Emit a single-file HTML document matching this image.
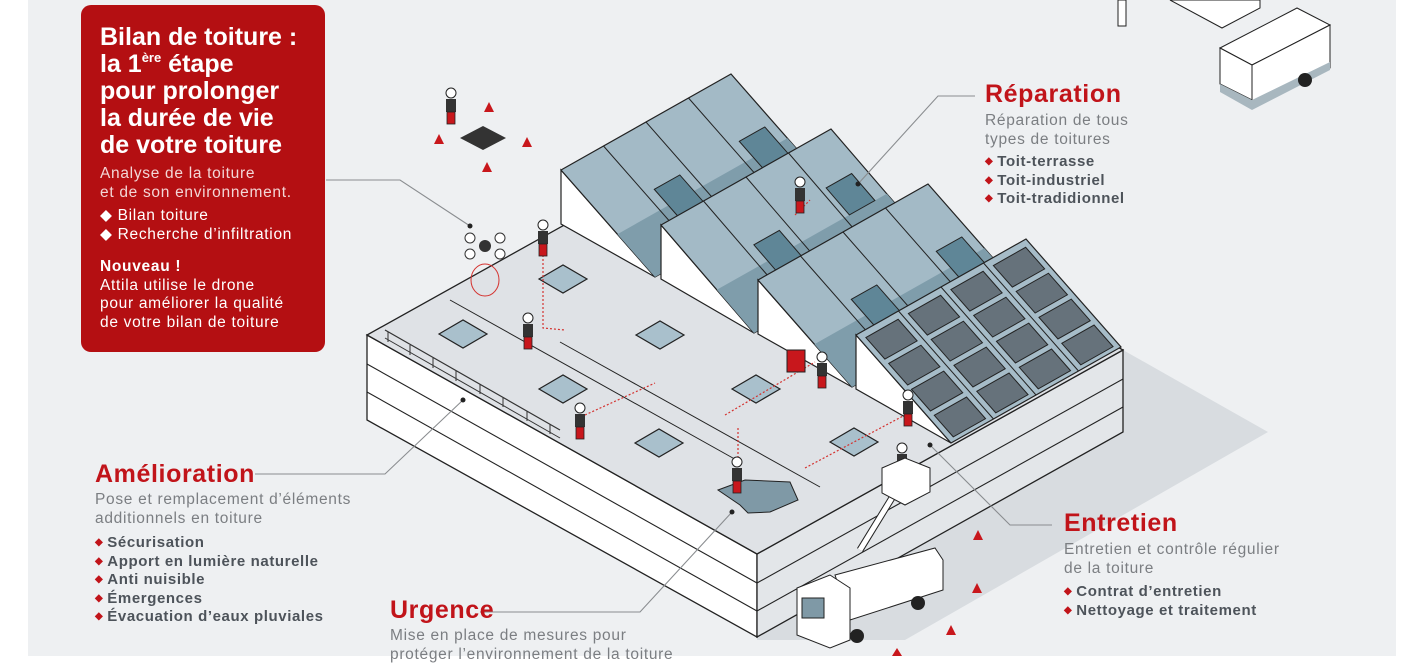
<!DOCTYPE html>
<html><head><meta charset="utf-8"><style>
html,body{margin:0;padding:0;width:1404px;height:656px;overflow:hidden;background:#fff;font-family:"Liberation Sans",sans-serif}
svg{position:absolute;left:0;top:0}
.t{position:absolute;white-space:nowrap}
.h{color:#c1141a;font-weight:bold;font-size:25px;letter-spacing:0.6px}
.d{color:#7b7e82;font-size:15.5px;line-height:18.5px;letter-spacing:0.7px}
.b{color:#4d535a;font-weight:bold;font-size:15px;line-height:18.5px;letter-spacing:0.6px}
.b span{color:#c1141a;font-size:10px;margin-right:4px;vertical-align:2px}
</style></head><body>
<svg width="1404" height="656" viewBox="0 0 1404 656">
<defs>
<g id="p">
<circle cx="0" cy="-30" r="5" fill="#fff" stroke="#222"/>
<rect x="-5" y="-24" width="10" height="13" fill="#333"/>
<rect x="-4" y="-11" width="8" height="12" fill="#c8171c" stroke="#222" stroke-width=".8"/>
</g>
</defs>
<rect x="28" y="0" width="1368" height="656" fill="#eef0f2"/>
<polygon points="1123,350 1268,432 905,640 757,640 757,554" fill="#d8dce0"/>
<polygon points="367,335 757,554 757,637 367,420" fill="#fff" stroke="#222" stroke-width="1.3"/>
<line x1="367" y1="364" x2="757" y2="583" stroke="#222" stroke-width="1.1"/>
<line x1="367" y1="392" x2="757" y2="611" stroke="#222" stroke-width="1.1"/>
<polygon points="757,554 1123,350 1123,432 757,637" fill="#e3e6e9" stroke="#222" stroke-width="1.3"/>
<line x1="757" y1="583" x2="1123" y2="379" stroke="#222" stroke-width="1.1"/>
<line x1="757" y1="611" x2="1123" y2="407" stroke="#222" stroke-width="1.1"/>
<polygon points="367,335 757,554 1123,350 733,131" fill="#dfe2e6" stroke="#222" stroke-width="1.3"/>
<line x1="450" y1="300" x2="740" y2="462" stroke="#222" stroke-width="1"/>
<line x1="560" y1="342" x2="820" y2="487" stroke="#222" stroke-width="1"/>
<line x1="385" y1="330" x2="560" y2="430" stroke="#333" stroke-width="1.2"/>
<line x1="385" y1="338" x2="560" y2="438" stroke="#333" stroke-width="1"/>
<g stroke="#333" stroke-width="1">
<line x1="388" y1="332" x2="388" y2="342"/><line x1="410" y1="345" x2="410" y2="355"/><line x1="433" y1="358" x2="433" y2="368"/><line x1="456" y1="371" x2="456" y2="381"/><line x1="480" y1="384" x2="480" y2="394"/><line x1="503" y1="397" x2="503" y2="407"/><line x1="527" y1="411" x2="527" y2="421"/><line x1="550" y1="424" x2="550" y2="434"/>
</g>
<g>
<polygon points="561,170 561,224 655,277" fill="#fff" stroke="#222" stroke-width="1.2"/>
<g transform="matrix(170,-96,94,107,561,170)">
<rect x="0" y="0" width="1" height="1" fill="#a3bac6" stroke="#222" stroke-width="1.2" vector-effect="non-scaling-stroke"/>
<rect x="0" y="0.6" width="1" height="0.4" fill="#7f9dab"/>
<line x1=".25" y1="0" x2=".25" y2="1" stroke="#222" vector-effect="non-scaling-stroke"/><line x1=".5" y1="0" x2=".5" y2="1" stroke="#222" vector-effect="non-scaling-stroke"/><line x1=".75" y1="0" x2=".75" y2="1" stroke="#222" vector-effect="non-scaling-stroke"/>
<rect x=".3" y=".45" width=".15" height=".25" fill="#5f8697" stroke="#222" vector-effect="non-scaling-stroke"/>
<rect x=".8" y=".45" width=".15" height=".25" fill="#5f8697" stroke="#222" vector-effect="non-scaling-stroke"/>
</g>
</g>
<g>
<polygon points="661,225 661,279 754,333" fill="#fff" stroke="#222" stroke-width="1.2"/>
<g transform="matrix(170,-96,93,108,661,225)">
<rect x="0" y="0" width="1" height="1" fill="#a3bac6" stroke="#222" stroke-width="1.2" vector-effect="non-scaling-stroke"/>
<rect x="0" y="0.6" width="1" height="0.4" fill="#7f9dab"/>
<line x1=".25" y1="0" x2=".25" y2="1" stroke="#222" vector-effect="non-scaling-stroke"/><line x1=".5" y1="0" x2=".5" y2="1" stroke="#222" vector-effect="non-scaling-stroke"/><line x1=".75" y1="0" x2=".75" y2="1" stroke="#222" vector-effect="non-scaling-stroke"/>
<rect x=".3" y=".45" width=".15" height=".25" fill="#5f8697" stroke="#222" vector-effect="non-scaling-stroke"/>
<rect x=".78" y=".35" width=".15" height=".25" fill="#5f8697" stroke="#222" vector-effect="non-scaling-stroke"/>
</g>
</g>
<g>
<polygon points="758,280 758,334 852,387" fill="#fff" stroke="#222" stroke-width="1.2"/>
<g transform="matrix(170,-96,94,107,758,280)">
<rect x="0" y="0" width="1" height="1" fill="#a3bac6" stroke="#222" stroke-width="1.2" vector-effect="non-scaling-stroke"/>
<rect x="0" y="0.6" width="1" height="0.4" fill="#7f9dab"/>
<line x1=".25" y1="0" x2=".25" y2="1" stroke="#222" vector-effect="non-scaling-stroke"/><line x1=".5" y1="0" x2=".5" y2="1" stroke="#222" vector-effect="non-scaling-stroke"/><line x1=".75" y1="0" x2=".75" y2="1" stroke="#222" vector-effect="non-scaling-stroke"/>
<rect x=".3" y=".45" width=".15" height=".25" fill="#5f8697" stroke="#222" vector-effect="non-scaling-stroke"/>
<rect x=".8" y=".45" width=".15" height=".25" fill="#5f8697" stroke="#222" vector-effect="non-scaling-stroke"/>
</g>
</g>
<g>
<polygon points="856,335 856,389 951,443" fill="#fff" stroke="#222" stroke-width="1.2"/>
<g transform="matrix(170,-96,95,108,856,335)">
<rect x="0" y="0" width="1" height="1" fill="#a6bcc8" stroke="#222" stroke-width="1.2" vector-effect="non-scaling-stroke"/>
<line x1=".25" y1="0" x2=".25" y2="1" stroke="#222" vector-effect="non-scaling-stroke"/><line x1=".5" y1="0" x2=".5" y2="1" stroke="#222" vector-effect="non-scaling-stroke"/><line x1=".75" y1="0" x2=".75" y2="1" stroke="#222" vector-effect="non-scaling-stroke"/>
<g fill="#66727b" stroke="#222" stroke-width="1">
<rect x=".03" y=".05" width=".19" height=".2" vector-effect="non-scaling-stroke"/><rect x=".03" y=".29" width=".19" height=".2" vector-effect="non-scaling-stroke"/><rect x=".03" y=".53" width=".19" height=".2" vector-effect="non-scaling-stroke"/><rect x=".03" y=".77" width=".19" height=".2" vector-effect="non-scaling-stroke"/>
<rect x=".28" y=".05" width=".19" height=".2" vector-effect="non-scaling-stroke"/><rect x=".28" y=".29" width=".19" height=".2" vector-effect="non-scaling-stroke"/><rect x=".28" y=".53" width=".19" height=".2" vector-effect="non-scaling-stroke"/><rect x=".28" y=".77" width=".19" height=".2" vector-effect="non-scaling-stroke"/>
<rect x=".53" y=".05" width=".19" height=".2" vector-effect="non-scaling-stroke"/><rect x=".53" y=".29" width=".19" height=".2" vector-effect="non-scaling-stroke"/><rect x=".53" y=".53" width=".19" height=".2" vector-effect="non-scaling-stroke"/><rect x=".53" y=".77" width=".19" height=".2" vector-effect="non-scaling-stroke"/>
<rect x=".78" y=".05" width=".19" height=".2" vector-effect="non-scaling-stroke"/><rect x=".78" y=".29" width=".19" height=".2" vector-effect="non-scaling-stroke"/><rect x=".78" y=".53" width=".19" height=".2" vector-effect="non-scaling-stroke"/><rect x=".78" y=".77" width=".19" height=".2" vector-effect="non-scaling-stroke"/>
</g>
</g>
</g>
<g fill="#a9c0cc" stroke="#222" stroke-width="1.2">
<polygon points="539,279 563,265 587,279 563,293"/>
<polygon points="439,334 463,320 487,334 463,348"/>
<polygon points="636,335 660,321 684,335 660,349"/>
<polygon points="539,389 563,375 587,389 563,403"/>
<polygon points="732,389 756,375 780,389 756,403"/>
<polygon points="635,443 659,429 683,443 659,457"/>
<polygon points="830,442 854,428 878,442 854,456"/>
</g>
<g stroke="#d4322f" stroke-width="1.2" stroke-dasharray="2,2" fill="none">
<polyline points="543,255 543,328 565,330"/>
<line x1="585" y1="415" x2="655" y2="383"/>
<line x1="725" y1="415" x2="815" y2="362"/>
<line x1="738" y1="428" x2="738" y2="460"/>
<line x1="805" y1="468" x2="905" y2="415"/>
<line x1="795" y1="215" x2="810" y2="200"/>
</g>
<polygon points="718,490 745,480 790,482 798,500 770,512 748,513 740,505" fill="#7f99a6" stroke="#222"/>
<rect x="787" y="350" width="18" height="22" fill="#c8171c" stroke="#222"/>
<use href="#p" x="543" y="255"/>
<use href="#p" x="528" y="348"/>
<use href="#p" x="580" y="438"/>
<use href="#p" x="822" y="387"/>
<use href="#p" x="908" y="425"/>
<use href="#p" x="737" y="492"/>
<use href="#p" x="800" y="212"/>
<use href="#p" x="451" y="123"/>
<use href="#p" x="902" y="478"/>
<polygon points="460,138 483,126 506,138 483,150" fill="#333"/>
<circle cx="485" cy="246" r="6" fill="#333"/>
<circle cx="470" cy="238" r="5" fill="#fff" stroke="#333"/><circle cx="500" cy="238" r="5" fill="#fff" stroke="#333"/>
<circle cx="470" cy="254" r="5" fill="#fff" stroke="#333"/><circle cx="500" cy="254" r="5" fill="#fff" stroke="#333"/>
<ellipse cx="485" cy="280" rx="14" ry="16" fill="none" stroke="#d4322f"/>
<g fill="#c8171c"><polygon points="434,144 439,134 444,144"/><polygon points="482,172 487,162 492,172"/><polygon points="522,147 527,137 532,147"/><polygon points="484,112 489,102 494,112"/><polygon points="973,540 978,530 983,540"/><polygon points="972,593 977,583 982,593"/><polygon points="946,635 951,625 956,635"/><polygon points="892,656 897,648 902,656"/></g>
<polygon points="835,575 935,548 943,560 943,590 850,620" fill="#fff" stroke="#222"/>
<polygon points="797,588 830,575 850,588 850,640 830,648 797,635" fill="#fff" stroke="#222"/>
<rect x="802" y="598" width="22" height="20" fill="#7f99a6" stroke="#222"/>
<circle cx="857" cy="636" r="7" fill="#222"/><circle cx="918" cy="603" r="7" fill="#222"/>
<line x1="860" y1="550" x2="898" y2="488" stroke="#222" stroke-width="7"/>
<line x1="860" y1="550" x2="898" y2="488" stroke="#fff" stroke-width="5"/>
<polygon points="882,468 905,458 930,468 930,492 905,505 882,493" fill="#fff" stroke="#222"/>
<polygon points="1170,0 1260,0 1260,8 1222,28 1170,0" fill="#fff" stroke="#222"/>
<polygon points="1220,48 1297,8 1330,25 1252,65" fill="#fff" stroke="#222"/>
<polygon points="1220,48 1252,65 1252,100 1220,84" fill="#fff" stroke="#222"/>
<polygon points="1252,65 1330,25 1330,68 1252,108" fill="#fff" stroke="#222"/>
<polygon points="1252,100 1330,62 1330,70 1252,110 1220,92 1220,84" fill="#a8b7bf"/>
<circle cx="1305" cy="80" r="7" fill="#222"/>
<rect x="1118" y="0" width="8" height="26" fill="#fff" stroke="#222"/>
<g stroke="#8a8d90" stroke-width="1.1" fill="none">
<polyline points="326,180 400,180 470,226"/>
<polyline points="975,96 938,96 858,184"/>
<polyline points="255,474 385,474 463,400"/>
<polyline points="480,612 640,612 732,512"/>
<polyline points="1052,525 1010,525 930,445"/>
</g>
<g fill="#222"><circle cx="470" cy="226" r="2.5"/><circle cx="858" cy="184" r="2.5"/><circle cx="463" cy="400" r="2.5"/><circle cx="732" cy="512" r="2.5"/><circle cx="930" cy="445" r="2.5"/></g>
<rect x="81" y="5" width="244" height="347" rx="10" fill="#b40f12"/>
</svg>

<div class="t" style="left:100px;top:24px;color:#fff;font-weight:bold;font-size:25px;line-height:27px;letter-spacing:0px">Bilan de toiture :<br>la 1<sup style="font-size:13px;vertical-align:10px;line-height:0">ère</sup> étape<br>pour prolonger<br>la durée de vie<br>de votre toiture</div>
<div class="t d" style="left:100px;top:165px;color:#f3d6d6">Analyse de la toiture<br>et de son environnement.</div>
<div class="t d" style="left:100px;top:207px;color:#fff">◆ Bilan toiture<br>◆ Recherche d’infiltration</div>
<div class="t d" style="left:100px;top:258px;color:#fff"><b>Nouveau !</b><br>Attila utilise le drone<br>pour améliorer la qualité<br>de votre bilan de toiture</div>

<div class="t h" style="left:985px;top:80px">Réparation</div>
<div class="t d" style="left:985px;top:112px">Réparation de tous<br>types de toitures</div>
<div class="t b" style="left:985px;top:153px"><span>◆</span>Toit-terrasse<br><span>◆</span>Toit-industriel<br><span>◆</span>Toit-tradidionnel</div>

<div class="t h" style="left:95px;top:460px">Amélioration</div>
<div class="t d" style="left:95px;top:491px">Pose et remplacement d’éléments<br>additionnels en toiture</div>
<div class="t b" style="left:95px;top:534px"><span>◆</span>Sécurisation<br><span>◆</span>Apport en lumière naturelle<br><span>◆</span>Anti nuisible<br><span>◆</span>Émergences<br><span>◆</span>Évacuation d’eaux pluviales</div>

<div class="t h" style="left:390px;top:596px">Urgence</div>
<div class="t d" style="left:390px;top:627px">Mise en place de mesures pour<br>protéger l’environnement de la toiture</div>

<div class="t h" style="left:1064px;top:509px">Entretien</div>
<div class="t d" style="left:1064px;top:541px">Entretien et contrôle régulier<br>de la toiture</div>
<div class="t b" style="left:1064px;top:583px"><span>◆</span>Contrat d’entretien<br><span>◆</span>Nettoyage et traitement</div>
</body></html>
